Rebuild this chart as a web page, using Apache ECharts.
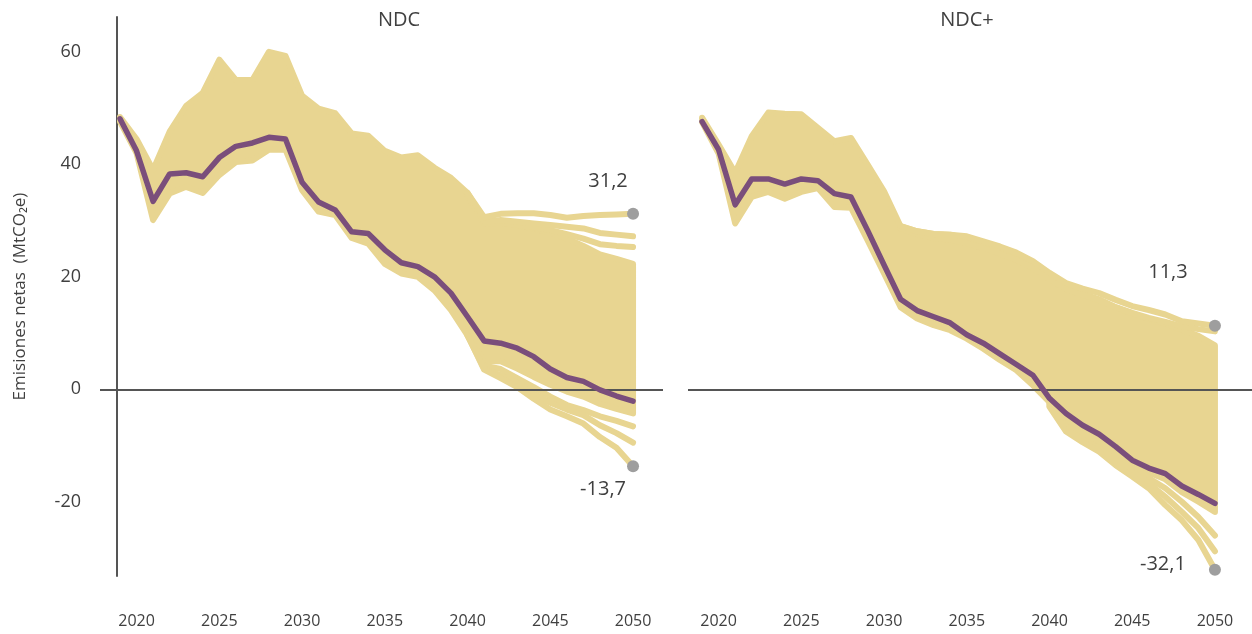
<!DOCTYPE html>
<html>
<head>
<meta charset="utf-8">
<script src="https://cdn.jsdelivr.net/npm/echarts@6/dist/echarts.min.js"></script>
<style>
  html, body { margin: 0; padding: 0; background: #fff; }
  #chart { width: 1252px; height: 634px; }
</style>
</head>
<body>
<div id="chart"></div>
<script>
// Years shown on both panels
const years = [2019, 2020, 2021, 2022, 2023, 2024, 2025, 2026, 2027, 2028, 2029, 2030,
    2031, 2032, 2033, 2034, 2035, 2036, 2037, 2038, 2039, 2040, 2041, 2042, 2043,
    2044, 2045, 2046, 2047, 2048, 2049, 2050];
const xTicks = [2020, 2025, 2030, 2035, 2040, 2045, 2050];
const yTicks = [-20, 0, 20, 40, 60];
const panelTitles = ['NDC', 'NDC+'];

// NDC panel
const ndcMedian = [48.1, 42.4, 33.4, 38.3, 38.5, 37.8, 41.2, 43.2, 43.8, 44.8, 44.5, 36.8,
    33.3, 31.9, 28.0, 27.7, 24.8, 22.5, 21.8, 20.0, 17.1, 12.9, 8.6, 8.2, 7.3,
    5.8, 3.6, 2.1, 1.4, -0.1, -1.2, -2.1];
const ndcUpper = [48.4, 44.5, 39.0, 45.8, 50.4, 52.7, 58.6, 55.0, 55.0, 60.0, 59.3, 52.2,
    49.9, 49.1, 45.5, 45.1, 42.4, 41.2, 41.6, 39.4, 37.6, 34.9, 30.0, 29.6, 29.2,
    28.6, 27.8, 26.8, 25.5, 24.0, 23.2, 22.3];
const ndcLower = [47.6, 42.0, 30.1, 34.8, 36.0, 34.9, 38.1, 40.4, 40.7, 42.6, 42.6, 35.4,
    31.6, 31.0, 26.9, 25.9, 22.3, 20.6, 20.0, 17.6, 14.1, 9.6, 5.0, 5.0, 3.7,
    2.2, 0.8, -0.4, -1.3, -2.6, -3.5, -4.3];
// outlying runs, 2040-2050
const ndcTop = [34.9, 30.6, 31.2, 31.3, 31.3, 31.0, 30.5, 30.8, 31.0, 31.1, 31.2];
const ndcUp2 = [34.6, 29.8, 30.1, 29.8, 29.5, 29.2, 28.9, 28.6, 27.8, 27.5, 27.2];
const ndcUp3 = [34.3, 29.5, 29.6, 29.2, 28.8, 28.3, 27.6, 26.8, 25.8, 25.5, 25.3];
const ndcLow1 = [9.6, 3.5, 2.0, 0.4, -1.7, -3.6, -4.8, -6.1, -8.5, -10.4, -13.7];
const ndcLow2 = [9.6, 3.7, 2.5, 1.1, -0.7, -2.4, -3.6, -4.6, -6.4, -7.8, -9.5];
const ndcLow3 = [9.6, 4.2, 3.6, 2.0, 0.4, -1.3, -2.8, -3.7, -4.8, -5.6, -6.6];
const ndcExtremes = [31.2, -13.7];

// NDC+ panel
const ndcpMedian = [47.6, 42.6, 32.8, 37.4, 37.4, 36.5, 37.4, 37.1, 34.8, 34.2, 28.3, 22.1,
    16.0, 14.0, 12.9, 11.8, 9.7, 8.2, 6.3, 4.4, 2.5, -1.6, -4.3, -6.4, -8.0,
    -10.2, -12.6, -14.0, -15.0, -17.2, -18.7, -20.3];
const ndcpUpper = [48.3, 43.5, 38.5, 45.0, 49.2, 49.0, 48.9, 46.5, 44.1, 44.7, 40.0, 35.2,
    29.0, 28.1, 27.6, 27.5, 26.8, 25.8, 24.8, 23.6, 22.0, 20.0, 18.0, 17.0, 16.0,
    14.6, 13.5, 12.5, 11.7, 10.6, 9.5, 7.8];
const ndcpLower = [47.5, 41.9, 29.5, 34.2, 35.1, 33.9, 35.1, 35.8, 32.4, 32.3, 26.5, 20.6,
    14.6, 12.6, 11.4, 10.5, 9.0, 7.2, 5.2, 3.4, 0.7, -2.3, -5.5, -7.3, -9.0,
    -11.0, -13.3, -14.8, -16.0, -18.3, -20.0, -21.8];
// outlying runs, 2031-2050 (upper) and 2040-2050 (lower)
const ndcpTop = [29.0, 28.1, 27.6, 27.5, 27.2, 26.3, 25.4, 24.3, 22.8, 20.7, 18.9, 17.9,
    17.1, 15.9, 14.8, 14.1, 13.3, 12.1, 11.7, 11.3];
const ndcpUp2 = [28.6, 27.6, 26.9, 26.6, 26.0, 25.1, 24.1, 23.0, 21.6, 19.6, 17.8, 16.8,
    15.8, 14.6, 13.6, 12.7, 12.0, 11.2, 10.7, 10.3];
const ndcpLow1 = [-3.1, -7.5, -9.4, -11.1, -13.5, -15.5, -17.6, -20.6, -23.3, -26.8, -32.1];
const ndcpLow2 = [-2.8, -7.2, -8.9, -10.5, -12.6, -14.7, -16.7, -19.1, -21.8, -24.7, -28.8];
const ndcpLow3 = [-2.5, -6.6, -8.0, -9.6, -11.7, -13.8, -15.8, -17.6, -20.0, -22.7, -26.0];
const ndcpExtremes = [11.3, -32.1];

const YELLOW = '#e8d591';
const PURPLE = '#7a4e7b';
const DOT = '#9e9e9e';
const INK = '#404040';
const AXIS = '#555555';
const FONT = 'Open Sans';

function pairs(xs, ys) {
    return ys.map((v, i) => [xs[i], v]);
}

function runLine(idx, xs, ys) {
    return {
        type: 'line', xAxisIndex: idx, yAxisIndex: idx,
        data: pairs(xs, ys), symbol: 'none', silent: true, z: 3,
        lineStyle: { color: YELLOW, width: 6, cap: 'round', join: 'round' },
    };
}

// filled envelope of all runs: polygon along upper, back along lower
function bandSeries(idx, upper, lower) {
    return {
        type: 'custom', xAxisIndex: idx, yAxisIndex: idx, silent: true, z: 2,
        data: [[years[0], upper[0]]],
        renderItem: (params, api) => {
            const pts = years.map((y, i) => api.coord([y, upper[i]]))
                .concat(years.map((y, i) => api.coord([y, lower[i]])).reverse());
            return {
                type: 'polygon',
                shape: { points: pts },
                style: { fill: YELLOW, stroke: YELLOW, lineWidth: 6, lineJoin: 'round' },
            };
        },
    };
}

function panelSeries(idx, median, upper, lower, extras, extremes, labelOffsets) {
    const list = [bandSeries(idx, upper, lower)];
    extras.forEach(e => list.push(runLine(idx, e.xs, e.ys)));
    list.push({
        type: 'line', xAxisIndex: idx, yAxisIndex: idx,
        data: pairs(years, median), symbol: 'none', silent: true, z: 6,
        lineStyle: { color: PURPLE, width: 5.5, cap: 'round', join: 'round' },
        markLine: {
            silent: true, symbol: 'none', label: { show: false }, z: 5,
            lineStyle: { color: AXIS, width: 2, type: 'solid' },
            emphasis: { disabled: true },
            data: [{ yAxis: 0 }],
        },
    });
    list.push({
        type: 'scatter', xAxisIndex: idx, yAxisIndex: idx, z: 7, silent: true,
        symbolSize: 12, itemStyle: { color: DOT, opacity: 1 },
        label: {
            show: true, position: 'inside',
            formatter: p => String(p.value[1]).replace('.', ','),
            color: INK, fontSize: 20, fontFamily: FONT,
            textBorderWidth: 0,
        },
        data: extremes.map((v, i) => ({ value: [2050, v], label: { offset: labelOffsets[i] } })),
    });
    return list;
}

const tailYears = years.slice(21);      // 2040-2050
const upperTailYears = years.slice(12); // 2031-2050

const series = [].concat(
    panelSeries(0, ndcMedian, ndcUpper, ndcLower, [
        { xs: tailYears, ys: ndcUp3 }, { xs: tailYears, ys: ndcUp2 }, { xs: tailYears, ys: ndcTop },
        { xs: tailYears, ys: ndcLow3 }, { xs: tailYears, ys: ndcLow2 }, { xs: tailYears, ys: ndcLow1 },
    ], ndcExtremes, [[-25, -33], [-30, 23]]),
    panelSeries(1, ndcpMedian, ndcpUpper, ndcpLower, [
        { xs: upperTailYears, ys: ndcpUp2 }, { xs: upperTailYears, ys: ndcpTop },
        { xs: tailYears, ys: ndcpLow3 }, { xs: tailYears, ys: ndcpLow2 }, { xs: tailYears, ys: ndcpLow1 },
    ], ndcpExtremes, [[-47, -53], [-52, -6]])
);

const xAxisBase = {
    type: 'value',
    axisLine: { show: false },
    axisTick: { show: false },
    splitLine: { show: false },
    axisLabel: {
        customValues: xTicks, formatter: v => String(v),
        color: INK, fontSize: 16, fontFamily: FONT, margin: 37,
    },
};

const chart = echarts.init(document.getElementById('chart'));
chart.setOption({
    animation: false,
    title: panelTitles.map((t, i) => ({
        text: t, left: i === 0 ? 394 : 962, top: 5, textAlign: 'center',
        textStyle: { color: INK, fontSize: 20, fontWeight: 'normal', fontFamily: FONT },
    })),
    grid: [
        { left: 117, top: 17, width: 546, height: 559 },
        { left: 688, top: 17, width: 564, height: 559 },
    ],
    xAxis: [
        Object.assign({ gridIndex: 0, min: 2018.82, max: 2051.81 }, xAxisBase),
        Object.assign({ gridIndex: 1, min: 2018.15, max: 2052.24 }, xAxisBase),
    ],
    yAxis: [
        {
            gridIndex: 0, type: 'value', min: -33.2, max: 66.2,
            name: 'Emisiones netas  (MtCO₂e)', nameLocation: 'middle', nameGap: 88, nameRotate: 90,
            nameTextStyle: { color: INK, fontSize: 17, fontFamily: FONT },
            axisLine: { show: true, lineStyle: { color: AXIS, width: 2 } },
            axisTick: { show: true, customValues: [0], length: 17, lineStyle: { color: AXIS, width: 2 } },
            axisLabel: { customValues: yTicks, color: INK, fontSize: 18, fontFamily: FONT, margin: 36 },
            splitLine: { show: false },
        },
        {
            gridIndex: 1, type: 'value', min: -33.2, max: 66.2,
            axisLine: { show: false }, axisTick: { show: false },
            axisLabel: { show: false }, splitLine: { show: false },
        },
    ],
    series,
});
</script>
</body>
</html>
